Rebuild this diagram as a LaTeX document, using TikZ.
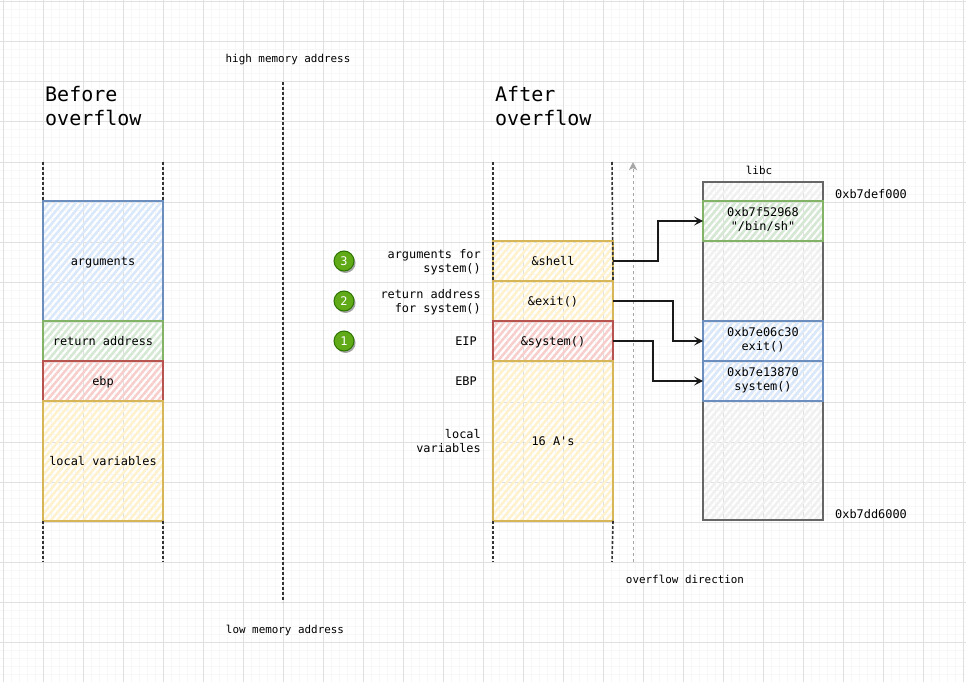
\documentclass[tikz,border=0pt]{standalone}
\usepackage{fontspec}
\newfontfamily\sketchfont{DejaVu Sans Mono}
\usetikzlibrary{arrows.meta,patterns.meta,shadows}
\newcommand{\cellstrut}{\rule[-3.1pt]{0pt}{15.1pt}}

\begin{document}
\begin{tikzpicture}[
    x=1pt, y=-1pt,
    majorgrid/.style={draw=black!12, line width=1pt},
    minorgrid/.style={draw=black!3, line width=1pt},
    label/.style={inner sep=0pt, font=\sketchfont\fontsize{11.9}{14}\selectfont},
    smalllabel/.style={inner sep=0pt, font=\sketchfont\fontsize{10.9}{14}\selectfont},
    title/.style={inner sep=0pt, anchor=west, align=left, font=\sketchfont\fontsize{20}{24}\selectfont},
    cell/.style={rectangle, line width=1.7pt, minimum width=120pt, minimum height=40pt, inner sep=0pt, outer sep=0pt, align=center, font=\sketchfont\fontsize{11.9}{14}\selectfont, execute at begin node=\cellstrut, execute at end node=\cellstrut, pattern={Lines[angle=50,distance=5pt,line width=2.5pt]}},
    bluecell/.style={cell, draw=bluebd, pattern color=bluefl},
    greencell/.style={cell, draw=greenbd, pattern color=greenfl},
    redcell/.style={cell, draw=redbd, pattern color=redfl},
    yellowcell/.style={cell, draw=yellowbd, pattern color=yellowfl},
    greycell/.style={cell, draw=greybd, pattern color=greyfl},
    stackline/.style={draw=black!80, line width=1.6pt, dash pattern=on 3pt off 2pt},
    pointer/.style={draw=black!90, line width=1.5pt, -{Stealth[length=9pt,width=9pt,inset=4pt]}},
    badge/.style={circle, draw=badgebd, fill=badgefl, line width=1pt, minimum size=20pt, inner sep=0pt, text=white, font=\sketchfont\fontsize{11.9}{14}\selectfont, drop shadow={shadow xshift=1.5pt, shadow yshift=-2pt, opacity=.35, fill=black}}
]
    \definecolor{bluebd}{HTML}{6C8EBF}\definecolor{bluefl}{HTML}{DAE8FC}
    \definecolor{greenbd}{HTML}{82B366}\definecolor{greenfl}{HTML}{D5E8D4}
    \definecolor{redbd}{HTML}{B85450}\definecolor{redfl}{HTML}{F8CECC}
    \definecolor{yellowbd}{HTML}{D6B656}\definecolor{yellowfl}{HTML}{FFF2CC}
    \definecolor{greybd}{HTML}{666666}\definecolor{greyfl}{HTML}{F0F0F0}
    \definecolor{badgebd}{HTML}{2D7600}\definecolor{badgefl}{HTML}{60A917}

    \useasboundingbox (0,0) rectangle (966,682);
    \fill[white] (0,0) rectangle (966,682);

    % Grid
    \foreach \gx in {3,11,...,963} \draw[minorgrid] (\gx,0) -- (\gx,682);
    \foreach \gy in {2,10,...,682} \draw[minorgrid] (0,\gy) -- (966,\gy);
    \foreach \gx in {3,43,...,963} \draw[majorgrid] (\gx,0) -- (\gx,682);
    \foreach \gy in {2,42,...,682} \draw[majorgrid] (0,\gy) -- (966,\gy);

    % Before overflow
    \node[title] (before) at (45,106) {Before\\overflow};
    \node[bluecell, minimum height=120pt] (arguments) at (103,261) {arguments};
    \node[greencell] (retaddr) at (103,341) {return address};
    \node[redcell] (ebp) at (103,381) {ebp};
    \node[yellowcell, minimum height=120pt] (localvars) at (103,461) {local variables};
    \coordinate (lefttopa) at (43,162);
    \coordinate (lefttopb) at (163,162);
    \coordinate (leftbota) at (43,562);
    \coordinate (leftbotb) at (163,562);
    \draw[stackline] (lefttopa) -- (arguments.north west);
    \draw[stackline] (lefttopb) -- (arguments.north east);
    \draw[stackline] (localvars.south west) -- (leftbota);
    \draw[stackline] (localvars.south east) -- (leftbotb);

    % Memory address axis
    \node[smalllabel] (high) at (288,60) {high memory address};
    \node[smalllabel] (low) at (285,630) {low memory address};
    \coordinate (axistop) at (283,82);
    \coordinate (axisbot) at (283,602);
    \draw[stackline] (axistop) -- (axisbot);

    % After overflow
    \node[title] (after) at (495,106) {After\\overflow};
    \node[yellowcell] (shell) at (553,261) {\&shell};
    \node[yellowcell] (exitaddr) at (553,301) {\&exit()};
    \node[redcell] (sysaddr) at (553,341) {\&system()};
    \node[yellowcell, minimum height=160pt] (filler) at (553,441) {16 A's};
    \coordinate (righttopa) at (493,162);
    \coordinate (righttopb) at (612,162);
    \coordinate (rightbota) at (493,562);
    \coordinate (rightbotb) at (612,562);
    \draw[stackline] (righttopa) -- (shell.south west);
    \draw[stackline] (righttopb) -- (shell.south east);
    \draw[stackline] (filler.south west) -- (rightbota);
    \draw[stackline] (filler.south east) -- (rightbotb);

    % Labels on the left of the stack
    \node[label, anchor=east, align=right] (argsfor) at (481,262) {arguments for\\system()};
    \node[label, anchor=east, align=right] (retfor) at (481,302) {return address\\for system()};
    \node[label] (eip) at (466,341) {EIP};
    \node[label] (ebplabel) at (466,381) {EBP};
    \node[label, anchor=east, align=right] (locallabel) at (481,441) {local\\variables};
    \node[badge] (three) at (344,261) {3};
    \node[badge] (two) at (344,301) {2};
    \node[badge] (one) at (344,341) {1};

    % Overflow direction
    \coordinate (flowbot) at (633,562);
    \coordinate (flowtop) at (633,162);
    \draw[draw=black!35, line width=1pt, dashed, -{Stealth[length=8pt,width=8pt,inset=2pt,fill=black!35]}] (flowbot) -- (flowtop);
    \node[smalllabel] (flowlabel) at (685,579) {overflow direction};

    % libc
    \node[smalllabel] (libc) at (759,170) {libc};
    \node[greycell, minimum height=338pt] (libcbox) at (763,351) {};
    \node[greencell] (binsh) at (763,221) {0xb7f52968\\"/bin/sh"};
    \node[bluecell] (exitfn) at (763,341) {0xb7e06c30\\exit()};
    \node[bluecell] (sysfn) at (763,381) {0xb7e13870\\system()};
    \node[label, anchor=west] (libctop) at (835,194) {0xb7def000};
    \node[label, anchor=west] (libcbot) at (835,514) {0xb7dd6000};

    % Pointers
    \draw[pointer] (shell.east) -- (658,261) |- (binsh.west);
    \draw[pointer] (exitaddr.east) -- (673,301) |- (exitfn.west);
    \draw[pointer] (sysaddr.east) -- (653,341) |- (sysfn.west);
\end{tikzpicture}
\end{document}
